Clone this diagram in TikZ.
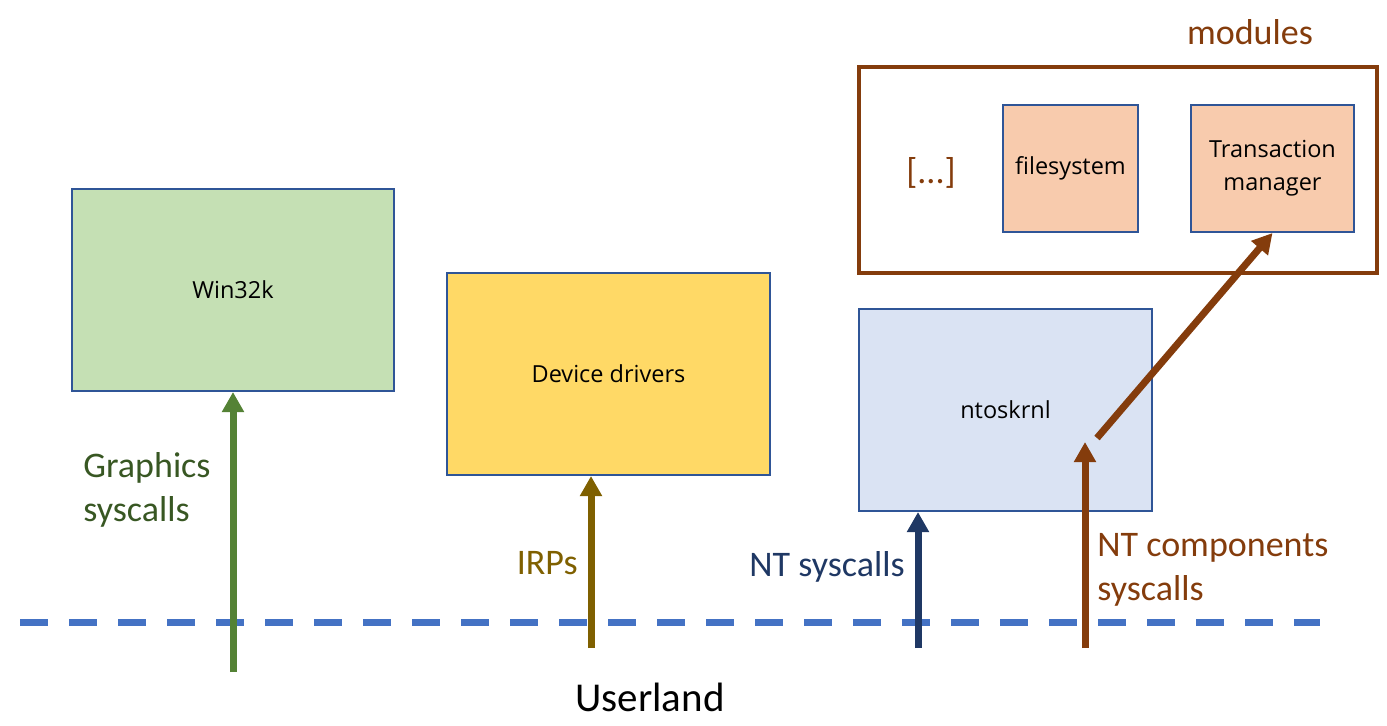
\documentclass[tikz,border=0pt]{standalone}
\usepackage{fontspec}
\setmainfont{Carlito}
\newfontfamily\boxfont{Open Sans}
\usetikzlibrary{arrows.meta}
\definecolor{boxline}{HTML}{2F5597}
\definecolor{winfill}{HTML}{C5E0B4}
\definecolor{drvfill}{HTML}{FFD966}
\definecolor{ntfill}{HTML}{DAE3F3}
\definecolor{modfill}{HTML}{F8CBAD}
\definecolor{modbrown}{HTML}{843C0C}
\definecolor{gfxgreen}{HTML}{548235}
\definecolor{gfxtext}{HTML}{385723}
\definecolor{irpbrown}{HTML}{7F6000}
\definecolor{ntblue}{HTML}{1F3864}
\definecolor{userblue}{HTML}{4472C4}
\tikzset{
  kbox/.style={draw=boxline, line width=1pt, inner sep=0pt, align=center,
    font=\boxfont\fontsize{11.75}{16.5}\selectfont},
  callarrow/.style={line width=3.5pt, -{Triangle[width=10.5pt,length=10pt]}},
  calltext/.style={inner sep=0pt, align=left, font=\fontsize{18}{22}\selectfont},
}
\begin{document}
\begin{tikzpicture}[x=0.5pt, y=-0.5pt]
    \useasboundingbox (0,0) rectangle (1387,725);
    % userland border
    \coordinate (uleft) at (20,622.5);
    \coordinate (uright) at (1320,622.5);
    \draw [userblue, line width=3.3pt, dash pattern=on 14pt off 10.5pt] (uleft) -- (uright);
    \node [font=\fontsize{20.5}{24}\selectfont] (userland) at (650,697) {Userland};
    % kernel side
    \node [kbox, fill=winfill, minimum width=161pt, minimum height=101pt] (win32k) at (233,290) {Win32k};
    \node [kbox, fill=drvfill, minimum width=161.5pt, minimum height=101pt] (drivers) at (608.5,374) {Device drivers};
    \node [kbox, fill=ntfill, minimum width=146.5pt, minimum height=101pt] (ntos) at (1005.5,410) {ntoskrnl};
    \node [draw=modbrown, line width=2.25pt, minimum width=259pt, minimum height=103pt] (modules) at (1118,170) {};
    \node [modbrown, inner sep=0pt, font=\fontsize{18}{22}\selectfont] (modtitle) at (1250,32) {modules};
    \node [modbrown, inner sep=0pt, font=\fontsize{18}{22}\selectfont] (moremods) at (931,173) {[...]};
    \node [kbox, fill=modfill, minimum width=67.5pt, minimum height=63.5pt] (fs) at (1070.5,168.5) {filesystem};
    \node [kbox, fill=modfill, minimum width=81.5pt, minimum height=63.5pt] (txm) at (1272.5,168.5) {Transaction\\manager};
    % syscalls
    \coordinate (gfxfoot) at (233,672);
    \draw [callarrow, gfxgreen] (gfxfoot) -- (win32k.south);
    \node [calltext, gfxtext, anchor=west] (gfxlbl) at (83,490) {Graphics\\syscalls};
    \coordinate (irpfoot) at (591,648);
    \draw [callarrow, irpbrown] (irpfoot) -- (irpfoot |- drivers.south);
    \node [calltext, irpbrown, anchor=east] (irplbl) at (578,563) {IRPs};
    \coordinate (ntfoot) at (918,648);
    \draw [callarrow, ntblue] (ntfoot) -- (ntfoot |- ntos.south);
    \node [calltext, ntblue, anchor=east] (ntlbl) at (905,567) {NT syscalls};
    \coordinate (compfoot) at (1085,648);
    \coordinate (comptip) at (1085,442);
    \draw [callarrow, modbrown] (compfoot) -- (comptip);
    \coordinate (compstart) at (1097,438);
    \draw [callarrow, modbrown] (compstart) -- (txm.south);
    \node [calltext, modbrown, anchor=west] (complbl) at (1097,570) {NT components\\syscalls};
\end{tikzpicture}
\end{document}
